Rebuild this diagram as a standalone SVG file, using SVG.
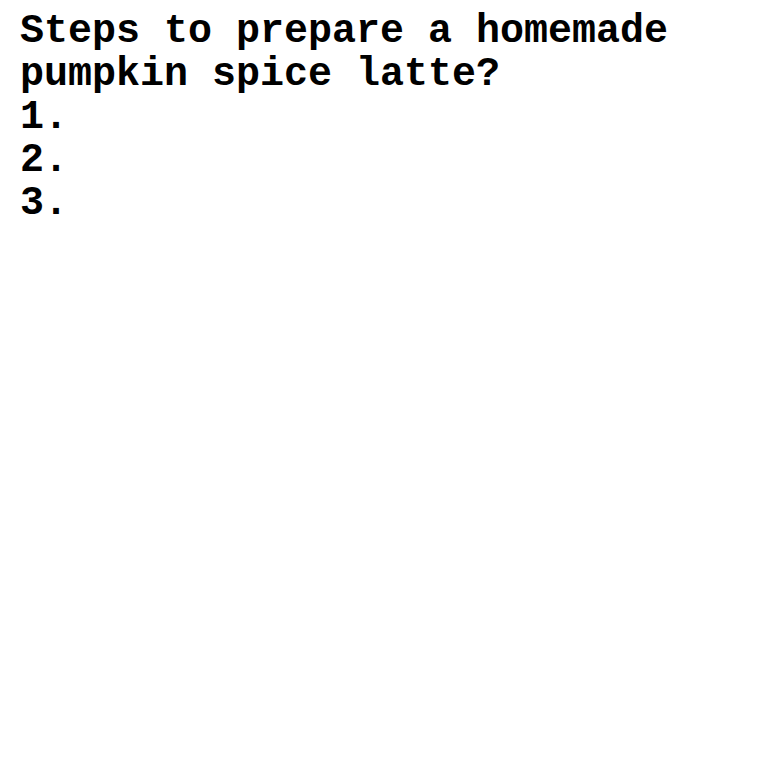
<svg xmlns="http://www.w3.org/2000/svg" width="760" height="760" viewBox="0 0 760 760">
<style>
text { font-family: "Liberation Mono", "Courier New", monospace; font-weight: bold; font-size: 40px; fill: #000; }
</style>
<rect width="760" height="760" fill="#fff"/>
<g id="question">
<text x="20" y="42">Steps to prepare a homemade</text>
<text x="20" y="85">pumpkin spice latte?</text>
</g>
<g id="steps">
<text x="20" y="128">1.</text>
<text x="20" y="171">2.</text>
<text x="20" y="214">3.</text>
</g>
</svg>
